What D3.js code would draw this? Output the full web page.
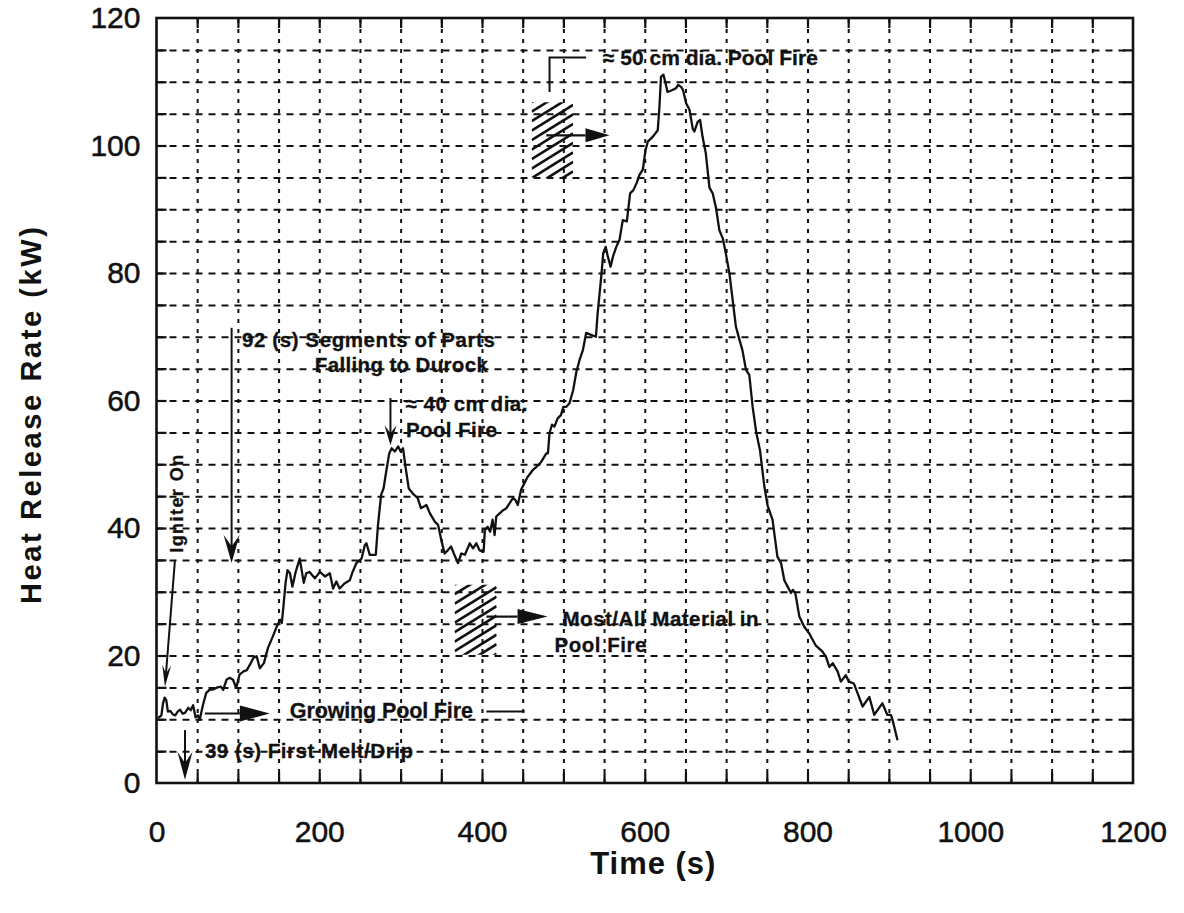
<!DOCTYPE html>
<html>
<head>
<meta charset="utf-8">
<script src="https://cdn.jsdelivr.net/npm/d3@7"></script>
<style>
  html, body { margin: 0; padding: 0; background: #fff; }
  svg { display: block; font-family: "Liberation Sans", Arial, Helvetica, sans-serif; }
  .grid line { stroke: #111; stroke-width: 2; }
  .grid path { display: none; }
  .ticks path { display: none; }
  .ticks line { stroke: #111; stroke-width: 2.2; }
  .lbl path, .lbl line { display: none; }
  .lbl text { fill: #111; font-size: 30px; stroke: #111; stroke-width: 0.5px; }
  .note { fill: #111; font-weight: bold; stroke: #111; stroke-width: 0.3px; }
</style>
</head>
<body>
<svg id="chart" width="1184" height="913"></svg>
<script>
// Heat release rate measured over the burn, time in seconds
const timeSec = [2,6,8,10,12,14,17,20,23,26,29,32,35,39,42,45,48,51,53,57,61,65,70,75,79,82,86,90,94,98,102,107,111,115,119,123,127,132,137,143,148,152,154,156,158.6,161,164,167,171,176,181,184,188,194.6,200.7,207,213,217,221,225,231,237.5,241,245.7,252,256,258,262,269.5,272,276,279,282.6,286,289,293,297,300,303,306,310,315,321,325,331.7,336,342,346,350,354,358,362,366,370.5,374.6,379,385,389,393,397,402,403.5,407,410,413,415.5,417.5,421.7,426,430,434,438,441,444,448,452,456,462.5,467,473,479,481,483,486,489,493,497,500,503.6,507.6,512,516,520,524,528,534,540,542,546.5,549,552,554.6,558,561,565,569,573,578,582,586,590,593.5,597.6,601,603.7,610,616,618,620,623,625.5,628,634,638.6,641,644.7,647,651,655,659,661,665,668,671,675,679.5,683.5,687.7,691.7,696,700,704,708,712,716,720,724.4,728.5,732.6,737,741.6,747,751,757,763,767.5,771.5,775.6,779.7,782,785,790,796,802,810,818.5,822.7,826.8,831,837,841,847,851,857,861.5,867.7,876,882,892,898,902.5,904.5,910.6];
// Heat release rate, kW
const heatKW = [10.2,10.6,12.5,13.4,13,11.2,11.3,10.8,10.6,11.2,11.5,10.9,11,11.8,11.4,12.2,10.3,10.6,9.9,12.2,14.1,14.6,14.7,15,15.1,14.6,16.2,16.5,16.2,14.9,17,17.5,17.7,18.6,19.6,19.9,18,18.8,21.2,23,24.6,25.6,25.1,27.7,31.4,33.4,32.9,30.8,33.1,35.2,31.4,32.9,33.1,32.1,33.1,32.4,32.9,30.5,31.6,30.5,31.3,31.8,33.1,34.5,35.2,37.3,37.6,35.8,35.8,40.2,45.2,46.2,49.1,51.7,52.5,52,52.8,52,52.5,49.6,46.2,45.4,44.7,43.1,43.6,42.3,41,40.5,38.1,36,36.5,37.1,35.8,34.5,36,35.8,37.6,36.8,37.6,36.5,36.3,39.7,40.2,39.4,41.3,38.9,41.8,42.3,42.8,43.1,43.9,44.7,44.4,43.6,46,47,48,49.1,49.6,50.4,51.7,51.7,54.9,56.2,55.9,57.2,57.7,59,59,59.6,61.6,64.5,66.4,67.9,70.6,70.3,70,73.5,79.4,83.1,84.1,82.6,81,82.6,84.1,85.2,88.3,88.1,92.5,93,94.1,95.4,96.2,99.3,100.6,101.4,102.4,106,110.8,111.1,109.8,108.4,108.7,109,109.5,109.2,108.7,106.6,105.6,102.6,102.2,103.7,104,101.4,98.8,93.4,92.5,90.1,86.7,85.4,82.8,80,75.8,71.6,69.7,67.9,64.8,64,59,55,52.2,46.5,43.5,41.3,35.5,34.5,31.8,30.8,29.8,30.3,29.8,26.1,24.5,23.5,21.6,20.6,19.8,18.2,18.8,17.5,15.9,16.9,15.9,15.6,14.1,12,13.5,10.7,12.5,10.7,10.7,9.9,6.7];

const xLabelTicks = [0,200,400,600,800,1000,1200];
const yLabelTicks = [0,20,40,60,80,100,120];
const xGridTicks = d3.range(50, 1200, 50);
const yGridTicks = d3.range(5, 120, 5);

const svg = d3.select("#chart");
const x = d3.scaleLinear().domain([0, 1200]).range([156.5, 1133]);
const y = d3.scaleLinear().domain([0, 120]).range([783, 18]);
const [x0, x1] = x.range();
const [y0, y1] = y.range();
const W = x1 - x0, H = y0 - y1;

// dashed grid
const g = svg.append("g");
g.append("g").attr("class", "grid").attr("transform", `translate(0,${y0})`)
  .call(d3.axisBottom(x).tickValues(xGridTicks).tickSize(-H).tickFormat(""))
  .selectAll("line").attr("stroke-dasharray", "4,6");
g.append("g").attr("class", "grid").attr("transform", `translate(${x0},0)`)
  .call(d3.axisLeft(y).tickValues(yGridTicks).tickSize(-W).tickFormat(""))
  .selectAll("line").attr("stroke-dasharray", "7,6");

// inward ticks on all four sides
const tk = 10;
g.append("g").attr("class", "ticks").attr("transform", `translate(0,${y0})`)
  .call(d3.axisBottom(x).tickValues(xGridTicks).tickSize(-tk).tickFormat(""));
g.append("g").attr("class", "ticks").attr("transform", `translate(0,${y1})`)
  .call(d3.axisTop(x).tickValues(xGridTicks).tickSize(-tk).tickFormat(""));
g.append("g").attr("class", "ticks").attr("transform", `translate(${x0},0)`)
  .call(d3.axisLeft(y).tickValues(yGridTicks).tickSize(-tk).tickFormat(""));
g.append("g").attr("class", "ticks").attr("transform", `translate(${x1},0)`)
  .call(d3.axisRight(y).tickValues(yGridTicks).tickSize(-tk).tickFormat(""));

// frame
g.append("rect").attr("x", x0).attr("y", y1).attr("width", W).attr("height", H)
  .attr("fill", "none").attr("stroke", "#111").attr("stroke-width", 2.6);

// tick labels
g.append("g").attr("class", "lbl").attr("transform", `translate(0,${y0})`)
  .call(d3.axisBottom(x).tickValues(xLabelTicks).tickSize(0).tickPadding(38).tickFormat(d3.format("d")));
g.append("g").attr("class", "lbl").attr("transform", `translate(${x0},0)`)
  .call(d3.axisLeft(y).tickValues(yLabelTicks).tickSize(0).tickPadding(16).tickFormat(d3.format("d")));

// axis titles
svg.append("text").attr("x", (x0 + x1) / 2 + 8).attr("y", 874)
  .attr("text-anchor", "middle").attr("font-size", 31).attr("font-weight", "bold")
  .attr("fill", "#111").attr("textLength", 125).attr("lengthAdjust", "spacing").text("Time (s)");
svg.append("text").attr("transform", `translate(41,${(y0 + y1) / 2 + 15}) rotate(-90)`)
  .attr("text-anchor", "middle").attr("font-size", 29).attr("font-weight", "bold")
  .attr("fill", "#111").attr("textLength", 377).attr("lengthAdjust", "spacing")
  .text("Heat Release Rate (kW)");

// heat release curve
const pts = timeSec.map((t, i) => ({ t, v: heatKW[i] }));
g.append("path").datum(pts)
  .attr("fill", "none").attr("stroke", "#111").attr("stroke-width", 2.3)
  .attr("stroke-linejoin", "round")
  .attr("d", d3.line().x(d => x(d.t)).y(d => y(d.v)));

// ---- annotations ----
const ann = svg.append("g");

function barbArrow(t1, v1, t2, v2, len, hw) {
  const ax = x(t1), ay = y(v1), bx = x(t2), by = y(v2);
  const d = Math.hypot(bx - ax, by - ay), ux = (bx - ax) / d, uy = (by - ay) / d;
  const px = -uy, py = ux;
  ann.append("line").attr("x1", ax).attr("y1", ay)
    .attr("x2", bx - ux * len * 0.5).attr("y2", by - uy * len * 0.5)
    .attr("stroke", "#111").attr("stroke-width", 2);
  const bkx = bx - ux * len, bky = by - uy * len;
  const nx = bx - ux * len * 0.6, ny = by - uy * len * 0.6;
  ann.append("path").attr("fill", "#111")
    .attr("d", `M${bx},${by}L${bkx + px * hw},${bky + py * hw}L${nx},${ny}L${bkx - px * hw},${bky - py * hw}Z`);
}

function triArrow(t1, v1, t2, v2, len, hw) {
  const ax = x(t1), ay = y(v1), bx = x(t2), by = y(v2);
  const d = Math.hypot(bx - ax, by - ay), ux = (bx - ax) / d, uy = (by - ay) / d;
  const px = -uy, py = ux;
  ann.append("line").attr("x1", ax).attr("y1", ay)
    .attr("x2", bx - ux * len).attr("y2", by - uy * len)
    .attr("stroke", "#111").attr("stroke-width", 2.2);
  const bkx = bx - ux * len, bky = by - uy * len;
  ann.append("path").attr("fill", "#111")
    .attr("d", `M${bx},${by}L${bkx + px * hw},${bky + py * hw}L${bkx - px * hw},${bky - py * hw}Z`);
}

function note(t, v, str, size, len) {
  ann.append("text").attr("class", "note").attr("x", x(t)).attr("y", y(v))
    .attr("font-size", size).attr("textLength", len).attr("lengthAdjust", "spacing")
    .text(str);
}

let hatchId = 0;
function hatch(t1, v1, t2, v2) {
  const rx = x(t1), ry = y(v1), rw = x(t2) - rx, rh = y(v2) - ry;
  const id = "hatch" + (hatchId++);
  svg.append("clipPath").attr("id", id).append("rect")
    .attr("x", rx).attr("y", ry).attr("width", rw).attr("height", rh);
  const hg = ann.append("g").attr("clip-path", `url(#${id})`);
  const slope = 0.62, step = 9.5;
  for (let k = -rw * slope; k < rh + step; k += step) {
    hg.append("line")
      .attr("x1", rx).attr("y1", ry + k + rw * slope)
      .attr("x2", rx + rw).attr("y2", ry + k)
      .attr("stroke", "#111").attr("stroke-width", 2.6);
  }
}

// igniter
barbArrow(22.7, 35, 10.4, 15.1, 22, 4.5);
ann.append("text").attr("class", "note")
  .attr("transform", `translate(${x(33)},${y(43.8)}) rotate(-90)`)
  .attr("text-anchor", "middle").attr("font-size", 18)
  .attr("textLength", 98).attr("lengthAdjust", "spacing").text("Igniter On");

// 92 s
barbArrow(92.3, 71.4, 92.3, 34.5, 28, 8);
note(105, 68.4, "92 (s) Segments of Parts", 20.5, 253);
note(194.6, 64.5, "Falling to Durock", 20.5, 173);

// 40 cm pool fire
barbArrow(287.5, 60.4, 287.5, 53, 20, 6);
note(306, 58.4, "\u2248 40 cm dia.", 20.5, 122);
note(306.5, 54.3, "Pool Fire", 20.5, 91);

// 50 cm pool fire
ann.append("path").attr("fill", "none").attr("stroke", "#111").attr("stroke-width", 2)
  .attr("d", d3.line()([[x(483), y(108.4)], [x(483), y(113.8)], [x(528), y(113.8)]]));
hatch(461, 106.8, 512, 95);
triArrow(479, 101.6, 556.7, 101.6, 24, 7);
note(548.5, 112.6, "\u2248 50 cm dia. Pool Fire", 21, 215);

// all material in pool fire
hatch(366.4, 31.1, 418, 20.1);
triArrow(405.4, 26.1, 480.6, 26.1, 30, 7.5);
note(499, 24.6, "Most/All Material in", 20.5, 196);
note(489, 20.5, "Pool Fire", 20.5, 92);

// growing pool fire
triArrow(59.5, 10.9, 139.3, 10.9, 30, 8);
note(163.9, 10.15, "Growing Pool Fire", 21.5, 183);
ann.append("line").attr("x1", x(405.4)).attr("x2", x(452.4))
  .attr("y1", y(11.2)).attr("y2", y(11.2)).attr("stroke", "#111").attr("stroke-width", 2);

// first melt / drip
barbArrow(35, 8.3, 35, 0.5, 28, 7.5);
note(59.5, 3.9, "39 (s) First Melt/Drip", 20.5, 208);
</script>
</body>
</html>
